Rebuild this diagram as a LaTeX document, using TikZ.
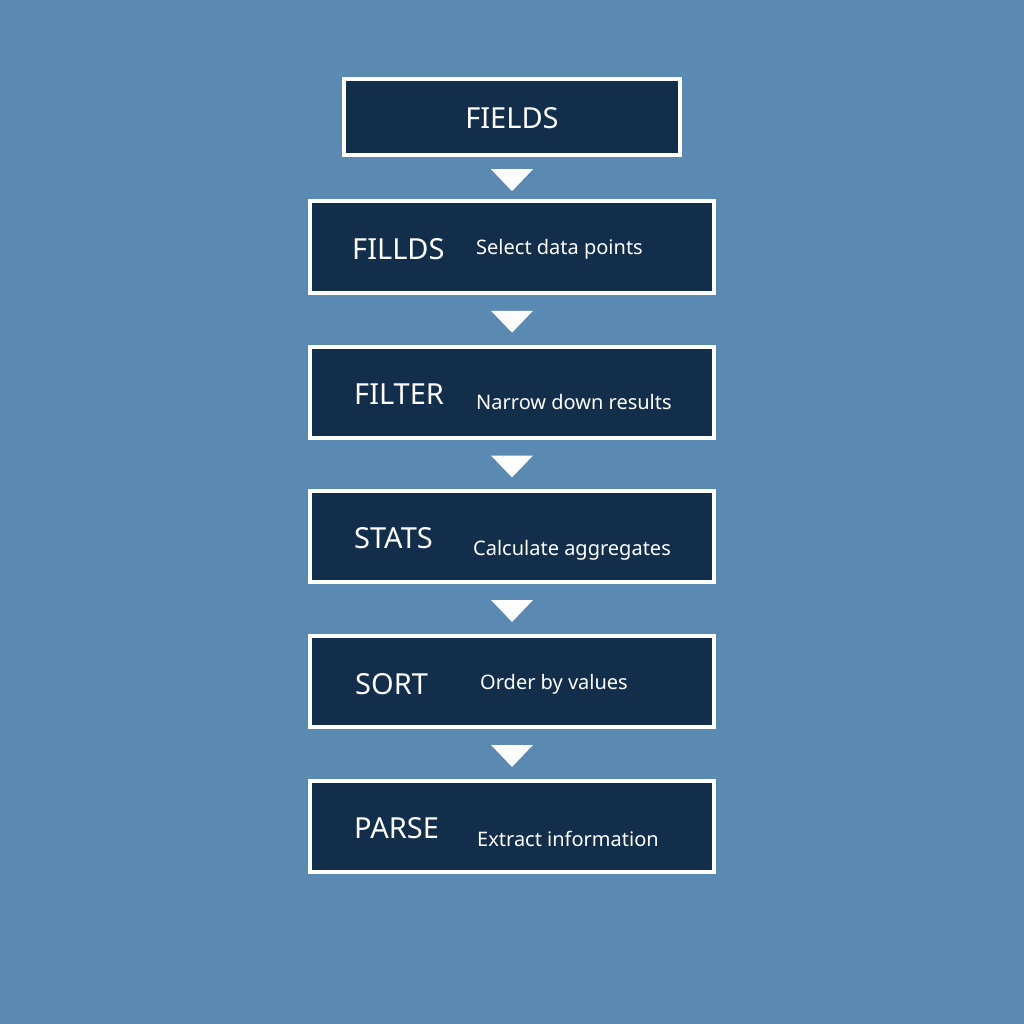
\documentclass[tikz,border=0pt]{standalone}
\usepackage{fontspec}
\setmainfont{Noto Sans}
\usetikzlibrary{calc}
\definecolor{bg}{HTML}{5A89B2}
\definecolor{boxfill}{HTML}{132E4B}
\tikzset{
  box/.style={draw=white, fill=boxfill, line width=4pt, inner sep=0pt},
  title/.style={text=white, font=\fontsize{29}{33}\selectfont, anchor=west, inner sep=0pt},
  desc/.style={text=white, font=\fontsize{20}{24}\selectfont, anchor=west, inner sep=0pt},
  tri/.style={fill=white, draw=none}
}
\begin{document}
\begin{tikzpicture}[x=1pt,y=-1pt]
\fill[bg] (0,0) rectangle (1024,1024);
\useasboundingbox (0,0) rectangle (1024,1024);
\node[box, minimum width=336pt, minimum height=76pt] (b1) at (512,117) {};
\node[text=white, font=\fontsize{29}{33}\selectfont, inner sep=0pt] (t1) at (512,118) {FIELDS};
\foreach \n/\y in {2/247, 3/392.5, 4/536.5, 5/681.5, 6/826.5}{
  \node[box, minimum width=404pt, minimum height=91pt] (b\n) at (512,\y) {};
}
\node[title] (t2) at (352,249) {FILLDS};
\node[desc] (d2) at (476,249) {Select data points};
\node[title] (t3) at (354,394) {FILTER};
\node[desc] (d3) at (476,402) {Narrow down results};
\node[title] (t4) at (354,538) {STATS};
\node[desc] (d4) at (473,550) {Calculate aggregates};
\node[title] (t5) at (355,684) {SORT};
\node[desc] (d5) at (480,684) {Order by values};
\node[title] (t6) at (354,828) {PARSE};
\node[desc] (d6) at (477,839) {Extract information};
\foreach \a/\b in {b1/b2, b2/b3, b3/b4, b4/b5, b5/b6}{
  \coordinate (m) at ($(\a.south)!0.5!(\b.north)+(0,2)$);
  \fill[white] ($(m)+(-21,-11)$) -- ($(m)+(21,-11)$) -- ($(m)+(0,11)$) -- cycle;
}
\end{tikzpicture}
\end{document}
